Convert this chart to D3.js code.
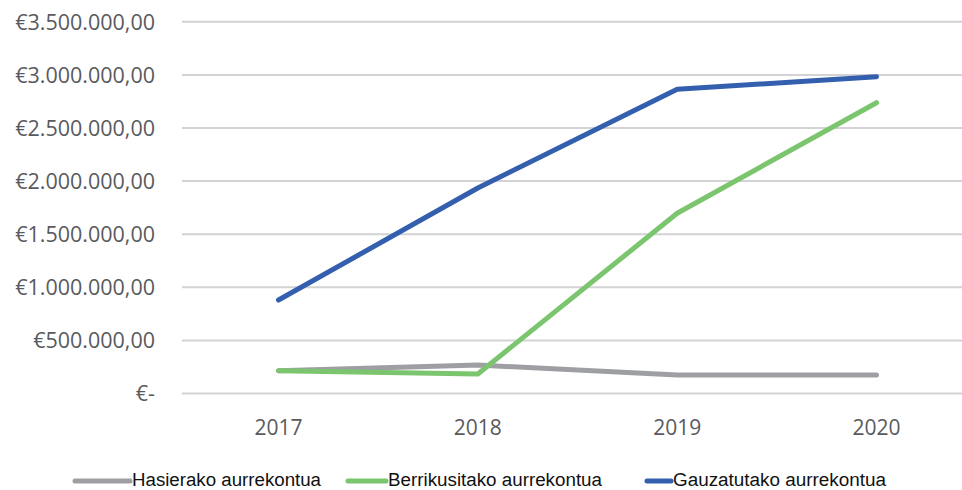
<!DOCTYPE html>
<html><head><meta charset="utf-8">
<script src="https://cdn.jsdelivr.net/npm/d3@7/dist/d3.min.js"></script>
<style>body{margin:0;background:#fff;}svg{display:block;}</style>
</head><body><svg id="c" width="962" height="490"></svg>
<script>
const years = ["2017","2018","2019","2020"];
const hasierako = [215000, 268000, 174000, 174000];
const berrikusitako = [215000, 184000, 1697000, 2738000];
const gauzatutako = [880000, 1935000, 2865000, 2983000];
const yTicks = [0, 500000, 1000000, 1500000, 2000000, 2500000, 3000000, 3500000];
const seriesNames = ["Hasierako aurrekontua", "Berrikusitako aurrekontua", "Gauzatutako aurrekontua"];
const seriesColors = ["#9d9fa3", "#7cc56f", "#335fae"];

const series = [hasierako, berrikusitako, gauzatutako].map((v,i)=>({name:seriesNames[i], color:seriesColors[i], values:v}));

const svg = d3.select("#c");
const gridLeft = 182, gridRight = 962;
const y = d3.scaleLinear().domain([0, 3500000]).range([393.5, 21.8]);
const x = d3.scalePoint().domain(years).range([278.5, 876.5]);

function fmt(v){
  if(v===0) return "€-";
  const s = d3.format(",.2f")(v);
  return "€" + s.replace(/,/g,"#").replace(".",",").replace(/#/g,".");
}

svg.append("g").selectAll("line").data(yTicks).join("line")
  .attr("x1", gridLeft).attr("x2", gridRight)
  .attr("y1", d=>y(d)).attr("y2", d=>y(d))
  .attr("stroke", "#d3d3d5").attr("stroke-width", 2);

svg.append("g").selectAll("text").data(yTicks).join("text")
  .attr("x", 155).attr("y", d=>y(d)).attr("dy", "0.36em")
  .attr("text-anchor", "end")
  .attr("font-family", "'Open Sans', sans-serif").attr("font-size", 21.5)
  .attr("fill", "#595a5d")
  .text(fmt);

svg.append("g").selectAll("text").data(years).join("text")
  .attr("x", d=>x(d)).attr("y", 427).attr("dy", "0.36em")
  .attr("text-anchor", "middle")
  .attr("font-family", "'Open Sans', sans-serif").attr("font-size", 21)
  .attr("fill", "#595a5d")
  .text(d=>d);

const line = d3.line().x((d,i)=>x(years[i])).y(d=>y(d));
svg.append("g").selectAll("path").data(series).join("path")
  .attr("d", d=>line(d.values))
  .attr("fill", "none").attr("stroke", d=>d.color)
  .attr("stroke-width", 5).attr("stroke-linecap", "round").attr("stroke-linejoin", "round");

const legX = [[75,130],[348,386],[647,671]];
const lg = svg.append("g").selectAll("g").data(series).join("g");
lg.append("line")
  .attr("x1", (d,i)=>legX[i][0]).attr("x2", (d,i)=>legX[i][1])
  .attr("y1", 481).attr("y2", 481)
  .attr("stroke", d=>d.color).attr("stroke-width", 5).attr("stroke-linecap", "round");
lg.append("text")
  .attr("x", (d,i)=>legX[i][1]+2).attr("y", 480).attr("dy", "0.35em")
  .attr("font-family", "'Liberation Sans', Arial, sans-serif").attr("font-size", 18)
  .attr("fill", "#111")
  .attr("textLength", (d,i)=>[189,214,213][i]).attr("lengthAdjust","spacingAndGlyphs")
  .text(d=>d.name);
</script></body></html>
